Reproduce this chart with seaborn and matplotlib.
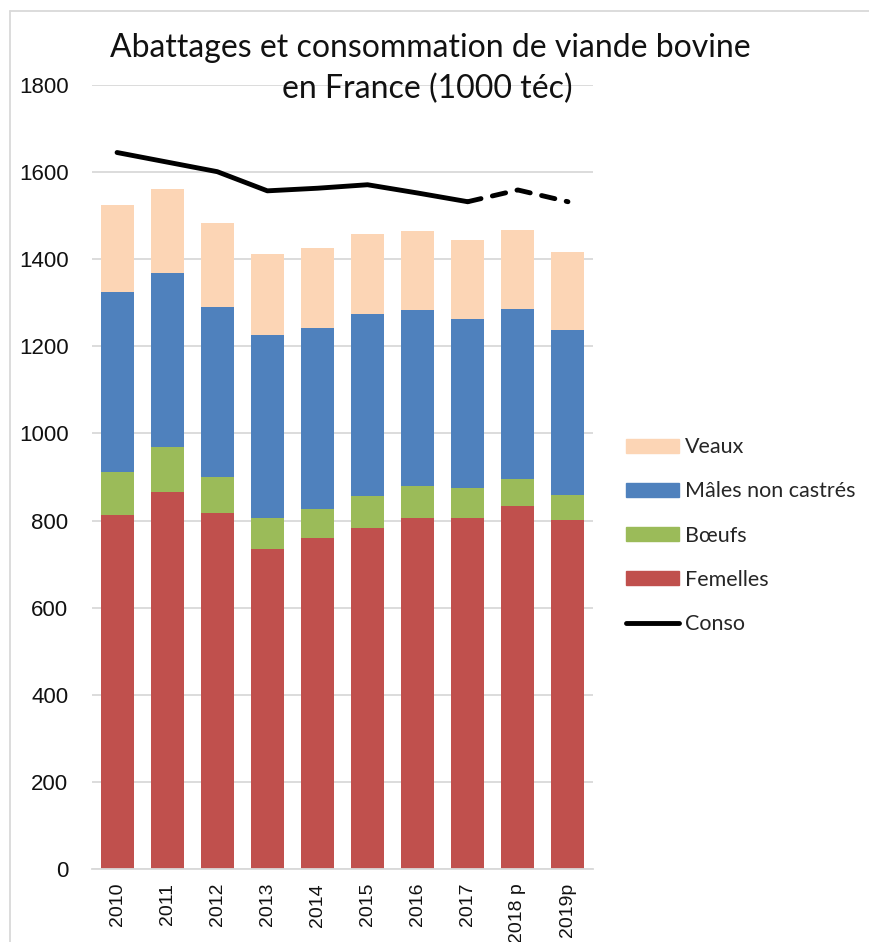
import matplotlib
matplotlib.use("Agg")
import matplotlib.pyplot as plt
from matplotlib.patches import Patch
from matplotlib.lines import Line2D
import numpy as np
import pandas as pd
import seaborn as sns

# Slaughter volumes by category and consumption (1000 téc)
years = ["2010", "2011", "2012", "2013", "2014", "2015", "2016", "2017", "2018 p", "2019p"]
femelles = [813, 866, 817, 735, 760, 783, 806, 806, 833, 801]
boeufs = [99, 103, 83, 71, 67, 73, 73, 69, 63, 58]
males = [413, 400, 390, 420, 415, 418, 405, 388, 390, 379]
veaux = [200, 192, 193, 186, 184, 184, 181, 181, 181, 179]
conso = [1645, 1623, 1601, 1557, 1563, 1571, 1552, 1532, 1559, 1532]
last_actual = 7  # index of the last non-provisional year

series_names = ["Femelles", "Bœufs", "Mâles non castrés", "Veaux"]
series_vals = [femelles, boeufs, males, veaux]
colors = {"Femelles": "#C0504D", "Bœufs": "#9BBB59",
          "Mâles non castrés": "#4F81BD", "Veaux": "#FCD5B5"}

df = pd.DataFrame({"annee": years})
cum = np.zeros(len(years))
for name, vals in zip(series_names, series_vals):
    cum = cum + np.array(vals)
    df[name] = cum.copy()

sns.set_style("white")
plt.rcParams["font.family"] = ["Liberation Sans", "DejaVu Sans"]

W, H = 870, 942
fig = plt.figure(figsize=(W / 100, H / 100), dpi=100)
ax = fig.add_axes([92 / W, 1 - 869 / H, (593 - 92) / W, (869 - 85) / H])

# stacked bars: draw cumulative totals from the top layer down
for name in reversed(series_names):
    sns.barplot(data=df, x="annee", y=name, color=colors[name],
                width=0.66, saturation=1, linewidth=0, edgecolor="none",
                ax=ax, zorder=2)

# consumption line: solid for final years, dashed for provisional
xs = np.arange(len(years))
line_df = pd.DataFrame({"x": xs, "conso": conso})
sns.lineplot(data=line_df.iloc[:last_actual + 1], x="x", y="conso", color="black",
             lw=3.5, ax=ax, zorder=4, solid_capstyle="round", solid_joinstyle="round")
sns.lineplot(data=line_df.iloc[last_actual:], x="x", y="conso", color="black",
             lw=3.5, ax=ax, zorder=4, linestyle=(0, (2.8, 2.4)), dash_capstyle="round")

ax.set_ylim(0, 1800)
ax.set_xlim(-0.5, len(years) - 0.5)
ax.set_yticks(range(0, 1801, 200))
ax.yaxis.grid(True, color="#D9D9D9", lw=1.3, zorder=0)
ax.set_axisbelow(True)
for s in ["left", "right", "top"]:
    ax.spines[s].set_visible(False)
ax.spines["bottom"].set_color("#D9D9D9")
ax.spines["bottom"].set_linewidth(1.3)
ax.set_xlabel("")
ax.set_ylabel("")
ax.tick_params(axis="y", length=0, pad=17, labelsize=16, labelcolor="#111111")
ax.tick_params(axis="x", length=0, pad=10, labelsize=14, labelcolor="#111111")
ax.set_xticks(xs)
ax.set_xticklabels(years, rotation=90, va="top", ha="center")

# title
fig.text(430 / W, 1 - 57 / H, "Abattages et consommation de viande bovine",
         ha="center", va="baseline", fontsize=23, family=["Lato", "DejaVu Sans"], color="#111111")
fig.text(427 / W, 1 - 98 / H, "en France (1000 téc)",
         ha="center", va="baseline", fontsize=23, family=["Lato", "DejaVu Sans"], color="#111111")

# legend
handles = [Patch(color=colors["Veaux"]), Patch(color=colors["Mâles non castrés"]),
           Patch(color=colors["Bœufs"]), Patch(color=colors["Femelles"]),
           Line2D([], [], color="black", lw=3.5)]
labels = ["Veaux", "Mâles non castrés", "Bœufs", "Femelles", "Conso"]
fig.legend(handles, labels, loc="center left",
           bbox_to_anchor=(626 / W, 1 - 535.5 / H), frameon=False,
           borderpad=0, borderaxespad=0, handlelength=2.45, handleheight=0.6,
           handletextpad=0.3, labelspacing=1.12,
           prop={"family": ["Lato", "DejaVu Sans"], "size": 15.5})

# outer frame of the chart area
fig.add_artist(Line2D([10 / W, 1], [1 - 11 / H, 1 - 11 / H], color="#D9D9D9", lw=1.3,
                      transform=fig.transFigure))
fig.add_artist(Line2D([10 / W, 10 / W], [0, 1 - 11 / H], color="#D9D9D9", lw=1.3,
                      transform=fig.transFigure))

fig.savefig("out.png", dpi=100)
